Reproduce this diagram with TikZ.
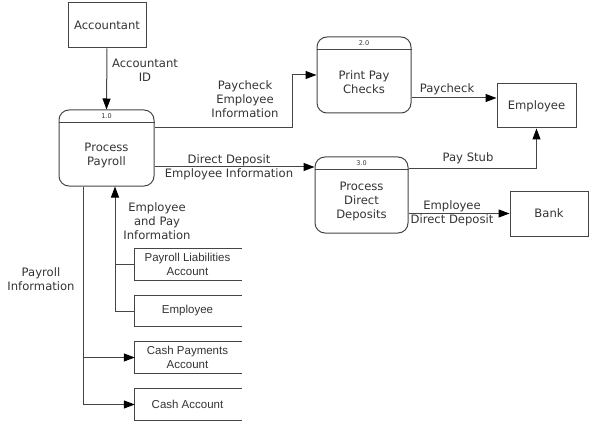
\documentclass[tikz,border=0pt]{standalone}
\usepackage{fontspec}
\setmainfont{DejaVu Sans}
\newfontfamily\storefont{Liberation Sans}
\usetikzlibrary{arrows.meta,calc}
\definecolor{ln}{HTML}{454545}
\definecolor{tx}{HTML}{333333}
\begin{document}
\begin{tikzpicture}[x=1pt,y=-1pt,
  every node/.style={text=tx,font=\fontsize{11.6}{14}\selectfont,inner sep=0pt},
  ext/.style={draw=ln,line width=1pt,minimum width=78pt,minimum height=45pt},
  proc/.style={draw=ln,line width=1pt,rounded corners=10pt,minimum width=94pt,minimum height=76pt},
  pnum/.style={font=\fontsize{6.5}{7}\selectfont},
  ptxt/.style={align=center},
  store/.style={minimum width=105pt,minimum height=31pt,align=center,font=\storefont\fontsize{11.5}{14}\selectfont},
  lbl/.style={align=center},
  con/.style={draw=ln,line width=1pt},
  arr/.style={con,-{Triangle[length=11pt,width=8pt,color=black]}}]
\useasboundingbox (0,0) rectangle (591,422);
% externals
\node[ext] (acc) at (107,25.5) {Accountant};
\node[ext,minimum width=79pt,minimum height=44pt] (emp) at (536.5,106) {Employee};
\node[ext] (bank) at (549,213.5) {Bank};
% processes
\node[proc,minimum width=95pt] (P1) at (106.5,148) {};
\node[proc] (P2) at (364,75) {};
\node[proc,minimum width=93pt] (P3) at (361.5,195) {};
\foreach \p/\n in {P1/1.0,P2/2.0,P3/3.0}{
  \draw[con] ([yshift=-13pt]\p.north west) -- ([yshift=-13pt]\p.north east);
  \node[pnum] (\p num) at ([yshift=-6.5pt]\p.north) {\n};
}
\node[ptxt] (t1) at ([yshift=-7pt]P1.center) {Process\\Payroll};
\node[ptxt] (t2) at ([yshift=-7pt]P2.center) {Print Pay\\Checks};
\node[ptxt] (t3) at ([yshift=-6pt]P3.center) {Process\\Direct\\Deposits};
% data stores
\node[store] (S1) at (187.5,264.5) {Payroll Liabilities\\Account};
\node[store] (S2) at (187.5,311) {Employee};
\node[store] (S3) at (187.5,357.5) {Cash Payments\\Account};
\node[store] (S4) at (187.5,404.5) {Cash Account};
\foreach \s in {S1,S2,S3,S4}{
  \draw[con] ([xshift=2pt]\s.north east) -- (\s.north west) -- (\s.south west) -- ([xshift=2pt]\s.south east);
}
% bend coordinates
\coordinate (c1) at (292,128);
\coordinate (c2) at (0,98);
\coordinate (c3) at (0,167);
\coordinate (c4) at (0,169);
\coordinate (c5) at (83,404.5);
\coordinate (c6) at (115,0);
% connectors
\draw[arr] (acc.south) -- (P1.north);
\draw[arr] (P1.east |- c1) -- (c1) |- (P2.west);
\draw[arr] (P2.east |- c2) -- (emp.west |- c2);
\draw[arr] (P1.east |- c3) -- (P3.west |- c3);
\draw[arr] (P3.east |- c4) -| (emp.south);
\draw[arr] (P3.east |- bank.west) -- (bank.west);
\draw[arr] (P1.south -| c5) |- (S4.west);
\draw[arr] (S3.west -| c5) -- (S3.west);
\draw[arr] (S2.west) -| (P1.south -| c6);
\draw[con] (S1.west) -- (S1.west -| c6);
% labels
\node[lbl] (l1) at (145,70) {Accountant\\ID};
\node[lbl] (l2) at (245,99) {Paycheck\\Employee\\Information};
\node[lbl] (l3) at (229,167.5) {Direct Deposit\\Employee Information};
\node[lbl] (l4) at (447,89) {Paycheck};
\node[lbl] (l5) at (468,158) {Pay Stub};
\node[lbl] (l6) at (452,213.5) {Employee\\Direct Deposit};
\node[lbl] (l7) at (157,221) {Employee\\and Pay\\Information};
\node[lbl] (l8) at (41,279) {Payroll\\Information};
\end{tikzpicture}
\end{document}
